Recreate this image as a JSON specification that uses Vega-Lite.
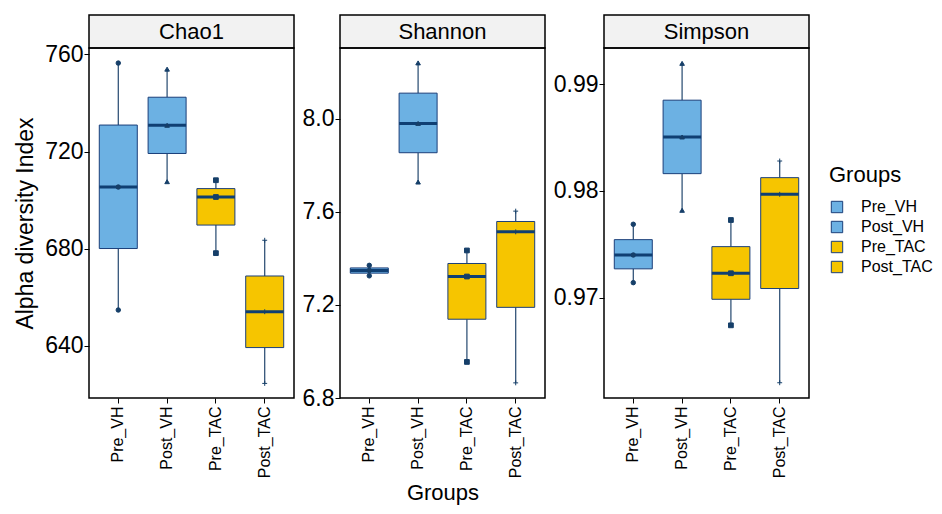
{
  "$schema": "https://vega.github.io/schema/vega-lite/v6.json",
  "padding": {"left": 13, "top": 14, "right": 0, "bottom": 0},
  "datasets": {
    "alpha": [
      {"index": "Chao1", "group": "Pre_VH", "value": 654.8},
      {"index": "Chao1", "group": "Pre_VH", "value": 705.4},
      {"index": "Chao1", "group": "Pre_VH", "value": 756.4},
      {"index": "Chao1", "group": "Post_VH", "value": 707.6},
      {"index": "Chao1", "group": "Post_VH", "value": 730.8},
      {"index": "Chao1", "group": "Post_VH", "value": 753.9},
      {"index": "Chao1", "group": "Pre_TAC", "value": 678.2},
      {"index": "Chao1", "group": "Pre_TAC", "value": 701.3},
      {"index": "Chao1", "group": "Pre_TAC", "value": 708.2},
      {"index": "Chao1", "group": "Post_TAC", "value": 624.6},
      {"index": "Chao1", "group": "Post_TAC", "value": 654.1},
      {"index": "Chao1", "group": "Post_TAC", "value": 683.5},
      {"index": "Shannon", "group": "Pre_VH", "value": 7.325},
      {"index": "Shannon", "group": "Pre_VH", "value": 7.348},
      {"index": "Shannon", "group": "Pre_VH", "value": 7.370},
      {"index": "Shannon", "group": "Post_VH", "value": 7.728},
      {"index": "Shannon", "group": "Post_VH", "value": 7.980},
      {"index": "Shannon", "group": "Post_VH", "value": 8.240},
      {"index": "Shannon", "group": "Pre_TAC", "value": 6.955},
      {"index": "Shannon", "group": "Pre_TAC", "value": 7.322},
      {"index": "Shannon", "group": "Pre_TAC", "value": 7.434},
      {"index": "Shannon", "group": "Post_TAC", "value": 6.865},
      {"index": "Shannon", "group": "Post_TAC", "value": 7.514},
      {"index": "Shannon", "group": "Post_TAC", "value": 7.603},
      {"index": "Simpson", "group": "Pre_VH", "value": 0.97141},
      {"index": "Simpson", "group": "Pre_VH", "value": 0.97400},
      {"index": "Simpson", "group": "Pre_VH", "value": 0.97688},
      {"index": "Simpson", "group": "Post_VH", "value": 0.97819},
      {"index": "Simpson", "group": "Post_VH", "value": 0.98506},
      {"index": "Simpson", "group": "Post_VH", "value": 0.99196},
      {"index": "Simpson", "group": "Pre_TAC", "value": 0.96741},
      {"index": "Simpson", "group": "Pre_TAC", "value": 0.97229},
      {"index": "Simpson", "group": "Pre_TAC", "value": 0.97728},
      {"index": "Simpson", "group": "Post_TAC", "value": 0.96203},
      {"index": "Simpson", "group": "Post_TAC", "value": 0.97969},
      {"index": "Simpson", "group": "Post_TAC", "value": 0.98281}
    ]
  },
  "spacing": 6,
  "hconcat": [
    {
      "spacing": 0,
      "bounds": "flush",
      "vconcat": [
        {
          "data": {"values": [{"label": "Chao1"}]},
          "width": 205, "height": 33,
          "view": {"fill": "#F2F2F2", "stroke": "black", "strokeWidth": 1.5},
          "mark": {"type": "text", "fontSize": 22, "color": "black", "font": "Liberation Sans"},
          "encoding": {"text": {"field": "label"}}
        },
        {
          "data": {"name": "alpha"},
          "transform": [{"filter": "datum.index == 'Chao1'"}],
          "width": 205, "height": 350,
          "encoding": {
            "x": {"field": "group", "type": "nominal", "sort": ["Pre_VH", "Post_VH", "Pre_TAC", "Post_TAC"],
                  "scale": {"paddingInner": 0.2, "paddingOuter": 0.2},
                  "axis": {"title": null, "labelAngle": -90, "labelFontSize": 16, "labelPadding": 3}},
            "y": {"field": "value", "type": "quantitative",
                  "scale": {"domain": [618.6, 762.6], "nice": false, "zero": false},
                  "axis": {"title": "Alpha diversity Index", "titleFontSize": 23, "titlePadding": 7, "values": [640, 680, 720, 760], "labelFontSize": 23, "labelPadding": 1}}
          },
          "layer": [
            {
              "mark": {"type": "boxplot", "extent": "min-max", "size": 38, "ticks": false,
                       "box": {"stroke": "#1B3F7A", "strokeWidth": 1},
                       "median": {"color": "#0F3F73", "thickness": 3, "opacity": 1},
                       "rule": {"color": "#23476E", "strokeWidth": 1.2}},
              "encoding": {
                "color": {"field": "group", "type": "nominal", "title": "Groups",
                          "scale": {"domain": ["Pre_VH", "Post_VH", "Pre_TAC", "Post_TAC"], "range": ["#6CB1E3", "#6CB1E3", "#F6C500", "#F6C500"]},
                          "legend": {"orient": "none", "legendX": 740, "legendY": 150, "symbolType": "square"}}
              }
            },
            {
              "mark": {"type": "point", "filled": true, "fill": "#163F69", "stroke": "#163F69", "strokeWidth": 1, "opacity": 1},
              "encoding": {
                "shape": {"field": "group", "type": "nominal", "legend": null, "sort": ["Pre_VH", "Post_VH", "Pre_TAC", "Post_TAC"],
                          "scale": {"range": ["circle", "triangle-up", "square", "M-1,0H1M0,-1V1"]}},
                "size": {"field": "group", "type": "nominal", "legend": null, "sort": ["Pre_VH", "Post_VH", "Pre_TAC", "Post_TAC"],
                         "scale": {"range": [20, 24, 22, 60]}}
              }
            }
          ]
        }
      ]
    },
    {
      "spacing": 0,
      "bounds": "flush",
      "vconcat": [
        {
          "data": {"values": [{"label": "Shannon"}]},
          "width": 205, "height": 33,
          "view": {"fill": "#F2F2F2", "stroke": "black", "strokeWidth": 1.5},
          "mark": {"type": "text", "fontSize": 22, "color": "black", "font": "Liberation Sans"},
          "encoding": {"text": {"field": "label"}}
        },
        {
          "data": {"name": "alpha"},
          "transform": [{"filter": "datum.index == 'Shannon'"}],
          "width": 205, "height": 350,
          "encoding": {
            "x": {"field": "group", "type": "nominal", "sort": ["Pre_VH", "Post_VH", "Pre_TAC", "Post_TAC"],
                  "scale": {"paddingInner": 0.2, "paddingOuter": 0.2},
                  "axis": {"title": "Groups", "titleFontSize": 22, "titlePadding": 5, "labelAngle": -90, "labelFontSize": 16, "labelPadding": 3}},
            "y": {"field": "value", "type": "quantitative",
                  "scale": {"domain": [6.8, 8.304], "nice": false, "zero": false},
                  "axis": {"title": null, "values": [6.8, 7.2, 7.6, 8.0], "format": ".1f", "labelFontSize": 23, "labelPadding": 1}}
          },
          "layer": [
            {
              "mark": {"type": "boxplot", "extent": "min-max", "size": 38, "ticks": false,
                       "box": {"stroke": "#1B3F7A", "strokeWidth": 1},
                       "median": {"color": "#0F3F73", "thickness": 3, "opacity": 1},
                       "rule": {"color": "#23476E", "strokeWidth": 1.2}},
              "encoding": {
                "color": {"field": "group", "type": "nominal", "title": "Groups",
                          "scale": {"domain": ["Pre_VH", "Post_VH", "Pre_TAC", "Post_TAC"], "range": ["#6CB1E3", "#6CB1E3", "#F6C500", "#F6C500"]},
                          "legend": {"orient": "none", "legendX": 740, "legendY": 150, "symbolType": "square"}}
              }
            },
            {
              "mark": {"type": "point", "filled": true, "fill": "#163F69", "stroke": "#163F69", "strokeWidth": 1, "opacity": 1},
              "encoding": {
                "shape": {"field": "group", "type": "nominal", "legend": null, "sort": ["Pre_VH", "Post_VH", "Pre_TAC", "Post_TAC"],
                          "scale": {"range": ["circle", "triangle-up", "square", "M-1,0H1M0,-1V1"]}},
                "size": {"field": "group", "type": "nominal", "legend": null, "sort": ["Pre_VH", "Post_VH", "Pre_TAC", "Post_TAC"],
                         "scale": {"range": [20, 24, 22, 60]}}
              }
            }
          ]
        }
      ]
    },
    {
      "spacing": 0,
      "bounds": "flush",
      "vconcat": [
        {
          "data": {"values": [{"label": "Simpson"}]},
          "width": 205, "height": 33,
          "view": {"fill": "#F2F2F2", "stroke": "black", "strokeWidth": 1.5},
          "mark": {"type": "text", "fontSize": 22, "color": "black", "font": "Liberation Sans"},
          "encoding": {"text": {"field": "label"}}
        },
        {
          "data": {"name": "alpha"},
          "transform": [{"filter": "datum.index == 'Simpson'"}],
          "width": 205, "height": 350,
          "encoding": {
            "x": {"field": "group", "type": "nominal", "sort": ["Pre_VH", "Post_VH", "Pre_TAC", "Post_TAC"],
                  "scale": {"paddingInner": 0.2, "paddingOuter": 0.2},
                  "axis": {"title": null, "labelAngle": -90, "labelFontSize": 16, "labelPadding": 3}},
            "y": {"field": "value", "type": "quantitative",
                  "scale": {"domain": [0.9606, 0.9934], "nice": false, "zero": false},
                  "axis": {"title": null, "values": [0.97, 0.98, 0.99], "format": ".2f", "labelFontSize": 23, "labelPadding": 1}}
          },
          "layer": [
            {
              "mark": {"type": "boxplot", "extent": "min-max", "size": 38, "ticks": false,
                       "box": {"stroke": "#1B3F7A", "strokeWidth": 1},
                       "median": {"color": "#0F3F73", "thickness": 3, "opacity": 1},
                       "rule": {"color": "#23476E", "strokeWidth": 1.2}},
              "encoding": {
                "color": {"field": "group", "type": "nominal", "title": "Groups",
                          "scale": {"domain": ["Pre_VH", "Post_VH", "Pre_TAC", "Post_TAC"], "range": ["#6CB1E3", "#6CB1E3", "#F6C500", "#F6C500"]},
                          "legend": {"orient": "none", "legendX": 740, "legendY": 150, "symbolType": "square"}}
              }
            },
            {
              "mark": {"type": "point", "filled": true, "fill": "#163F69", "stroke": "#163F69", "strokeWidth": 1, "opacity": 1},
              "encoding": {
                "shape": {"field": "group", "type": "nominal", "legend": null, "sort": ["Pre_VH", "Post_VH", "Pre_TAC", "Post_TAC"],
                          "scale": {"range": ["circle", "triangle-up", "square", "M-1,0H1M0,-1V1"]}},
                "size": {"field": "group", "type": "nominal", "legend": null, "sort": ["Pre_VH", "Post_VH", "Pre_TAC", "Post_TAC"],
                         "scale": {"range": [20, 24, 22, 60]}}
              }
            }
          ]
        }
      ]
    }
  ],
  "config": {
    "font": "Liberation Sans",
    "view": {"stroke": "black", "strokeWidth": 1.5},
    "axis": {"grid": false, "domain": false, "tickColor": "black", "tickSize": 5, "tickWidth": 1, "labelColor": "black", "titleColor": "black", "titleFontWeight": "normal", "labelFont": "Liberation Sans", "titleFont": "Liberation Sans"},
    "legend": {"titleFontSize": 22, "titleFontWeight": "normal", "titleColor": "black", "labelFontSize": 16, "labelColor": "black", "symbolType": "square", "symbolSize": 130, "symbolStrokeColor": "#1B3F7A", "symbolStrokeWidth": 1, "symbolOpacity": 1, "labelOffset": 16, "rowPadding": 4, "titlePadding": 12, "padding": 0}
  }
}
